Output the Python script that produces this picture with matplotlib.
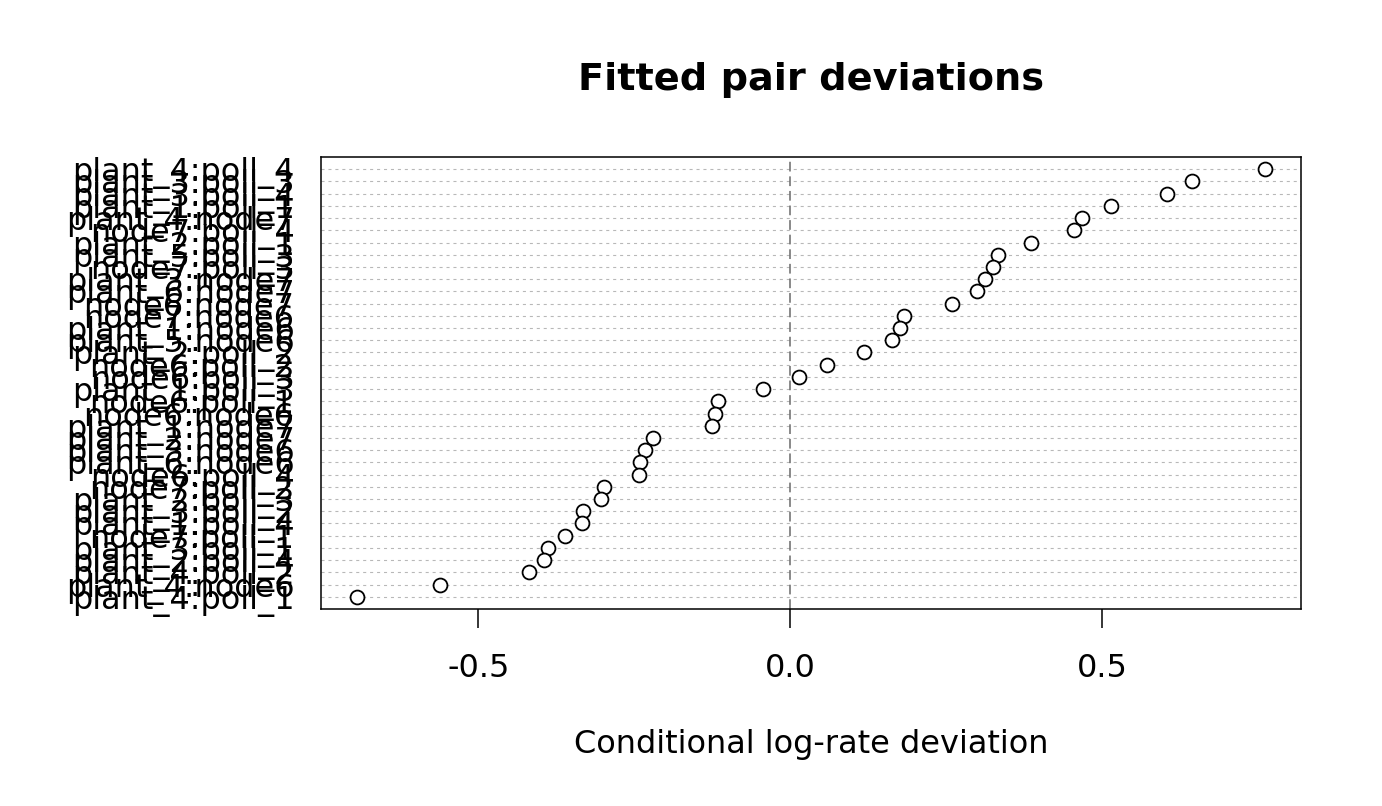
import numpy as np
import matplotlib
matplotlib.use("Agg")
import matplotlib.pyplot as plt

plt.rcParams['lines.scale_dashes'] = False

# Pair labels, listed from top row to bottom row
labels = [
    "plant_4:poll_4", "plant_3:poll_3", "plant_3:poll_4", "plant_1:poll_1",
    "plant_4:node7", "node7:poll_4", "plant_2:poll_1", "plant_5:poll_3",
    "node7:poll_3", "plant_3:node7", "plant_6:node7", "node6:node7",
    "node7:node6", "plant_1:node6", "plant_5:node6", "plant_2:poll_2",
    "node6:poll_2", "node6:poll_3", "plant_1:poll_3", "node6:poll_1",
    "node6:node6", "plant_1:node7", "plant_2:node7", "plant_3:node6",
    "plant_6:node6", "node6:poll_4", "node7:poll_2", "plant_2:poll_3",
    "plant_3:poll_2", "plant_1:poll_4", "node7:poll_1", "plant_3:poll_1",
    "plant_2:poll_4", "plant_4:poll_2", "plant_4:node6", "plant_4:poll_1",
]

# Fitted deviations, same order (top to bottom)
values = [
    0.761, 0.644, 0.605, 0.515, 0.468, 0.455, 0.386, 0.333,
    0.326, 0.312, 0.300, 0.260, 0.183, 0.176, 0.164, 0.119,
    0.059, 0.014, -0.043, -0.115, -0.120, -0.125, -0.220, -0.232,
    -0.240, -0.242, -0.298, -0.303, -0.332, -0.333, -0.361, -0.389,
    -0.394, -0.418, -0.561, -0.694,
]

xticks = [-0.5, 0.0, 0.5]
xtick_labels = ["-0.5", "0.0", "0.5"]

n = len(values)
ypos = np.arange(n, 0, -1)

fig = plt.figure(figsize=(13.82, 8.06), dpi=100)
ax = fig.add_axes([321/1382, 1 - 609/806, (1301 - 321)/1382, (609 - 157)/806])

# grid lines per row
for y in ypos:
    ax.axhline(y, color="#b8b8b8", lw=0.8, linestyle=(0, (2.2, 2.8)), zorder=1)
ax.axvline(0, color="#6a6a6a", lw=1.1, linestyle=(0, (7, 3.5)), zorder=1)

ax.plot(values, ypos, linestyle="none", marker="o", markersize=10,
        markerfacecolor="white", markeredgecolor="black", markeredgewidth=1.3, zorder=3)

vmin, vmax = min(values), max(values)
pad = 0.04 * (vmax - vmin)
ax.set_xlim(vmin - pad, vmax + pad)
ax.set_ylim(0, n + 1)

ax.set_xticks(xticks)
ax.set_xticklabels(xtick_labels, fontsize=23)
ax.tick_params(axis="x", length=14, width=1.1, pad=18, direction="out")
ax.set_yticks(ypos)
ax.set_yticklabels(labels, fontsize=23)
ax.tick_params(axis="y", length=0, pad=19)
for s in ax.spines.values():
    s.set_linewidth(1.1)
    s.set_color("black")

fig.text((321 + 1301) / 2 / 1382, 1 - 80 / 806, "Fitted pair deviations",
         ha="center", va="center", fontsize=27.5, fontweight="bold")
fig.text((321 + 1301) / 2 / 1382, 1 - 745 / 806, "Conditional log-rate deviation",
         ha="center", va="center", fontsize=23)

fig.savefig("out.png", dpi=100)
